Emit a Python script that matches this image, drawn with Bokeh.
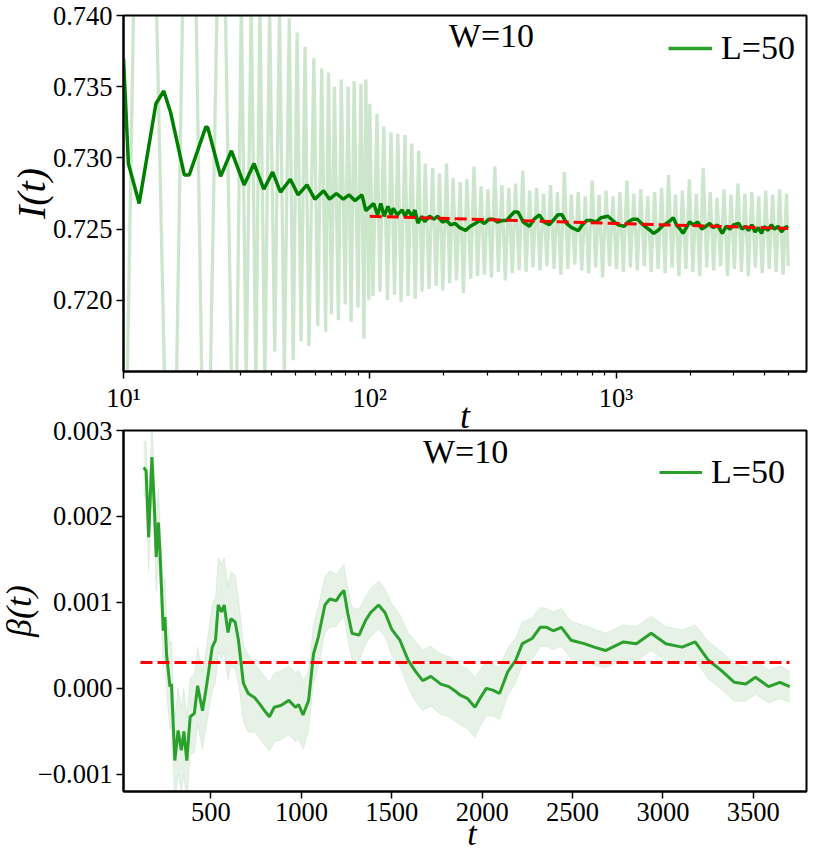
import numpy as np
from bokeh.plotting import figure
from bokeh.layouts import column
from bokeh.models import (Range1d, FixedTicker, CustomJSTickFormatter, Label,
                          Legend, LegendItem, Div)
from bokeh.embed import file_html
from bokeh.resources import INLINE

FONT = "Liberation Serif"

# ---------------- top panel data: I(t) ----------------
# raw (unsmoothed) signal, light line
raw_t = [10.35, 11.0, 13.6, 14.7, 16.4, 17.4, 19.7, 20.8, 22.5, 24.0, 25.9, 27.5, 28.8,
         30.1, 31.5, 33.0, 34.5, 35.8, 37.5, 39.2, 41.1, 43.0, 45.0, 47.1, 48.9, 50.7,
         52.6, 54.6, 56.6, 59.3, 61.5, 63.8, 66.2, 68.0, 69.9, 71.9, 74.6, 76.6, 79.5,
         81.7, 84.0, 86.4, 89.6, 92.1, 94.7, 96.4, 99.1,
         100, 103, 107, 110, 114, 118, 122, 126, 130, 134, 139, 143, 148, 153, 158, 163,
         168, 174, 180, 186, 192, 198, 205, 211, 218, 225, 233, 240, 248, 257, 265, 274,
         283, 292, 302, 312, 322, 333, 344, 355, 367, 379, 391, 404, 418, 431, 446, 460,
         476, 491, 508, 524, 542, 560, 578, 597, 617, 637, 658, 680, 702, 726, 750, 774,
         800, 826, 854, 882, 911, 941, 972, 1004, 1037, 1071, 1107, 1143, 1181, 1220,
         1260, 1302, 1345, 1389, 1435, 1482, 1531, 1582, 1634, 1688, 1743, 1801, 1860,
         1921, 1985, 2050, 2118, 2188, 2260, 2334, 2411, 2491, 2573, 2658, 2745, 2836,
         2930, 3026, 3126, 3229, 3336, 3446, 3560, 3677, 3798, 3924, 4053, 4187, 4325,
         4468, 4615, 4768, 4925, 5000]
raw_I = [0.7140, 0.7410, 0.7410, 0.7140, 0.7140, 0.7410, 0.7410, 0.7140, 0.7140, 0.7410,
         0.7410, 0.7140, 0.7140,
         0.7410, 0.7140, 0.7410, 0.7140, 0.7408, 0.7143, 0.7405, 0.7164, 0.7402, 0.7150,
         0.7398, 0.7158, 0.7388, 0.7171, 0.7378, 0.7168, 0.7370, 0.7182, 0.7363, 0.7178,
         0.7360, 0.7190, 0.7350, 0.7186, 0.7355, 0.7197, 0.7350, 0.7185, 0.7354, 0.7195,
         0.7352, 0.7173, 0.7355, 0.7200,
         0.7338, 0.7203, 0.7331, 0.7206, 0.7322, 0.7200, 0.7318, 0.7204, 0.7317, 0.7199,
         0.7316, 0.7203, 0.7310, 0.7201, 0.7305, 0.7206, 0.7296, 0.7208, 0.7293, 0.7210,
         0.7289, 0.7207, 0.7296, 0.7212, 0.7286, 0.7214, 0.7283, 0.7205, 0.7285, 0.7215,
         0.7294, 0.7217, 0.7280, 0.7218, 0.7278, 0.7216, 0.7294, 0.7220, 0.7281, 0.7214,
         0.7279, 0.7219, 0.7282, 0.7221, 0.7291, 0.7220, 0.7277, 0.7223, 0.7279, 0.7221,
         0.7275, 0.7224, 0.7281, 0.7222, 0.7276, 0.7218, 0.7290, 0.7222, 0.7274, 0.7225,
         0.7276, 0.7221, 0.7273, 0.7219, 0.7284, 0.7223, 0.7274, 0.7216, 0.7277, 0.7224,
         0.7273, 0.7222, 0.7276, 0.7220, 0.7284, 0.7223, 0.7275, 0.7221, 0.7278, 0.7224,
         0.7273, 0.7220, 0.7276, 0.7222, 0.7279, 0.7219, 0.7288, 0.7223, 0.7274, 0.7217,
         0.7277, 0.7222, 0.7285, 0.7220, 0.7275, 0.7217, 0.7293, 0.7223, 0.7276, 0.7221,
         0.7272, 0.7224, 0.7278, 0.7217, 0.7274, 0.7222, 0.7282, 0.7220, 0.7275, 0.7217,
         0.7276, 0.7223, 0.7273, 0.7219, 0.7277, 0.7222, 0.7274, 0.7220, 0.7278, 0.7218,
         0.7275, 0.7224]

# smoothed signal, dark line
smooth_t = [10.0, 10.47, 11.58, 13.54, 14.57, 15.53, 17.66, 18.49, 21.61, 22.01, 24.80,
            27.43, 30.90, 33.88, 37.13, 40.32, 43.40, 47.57, 51.19, 55.59, 59.84, 64.95,
            68.65, 73.18, 78.06, 82.47, 87.13, 92.92, 96.40,
            103.7, 107.6, 110.9, 114.3, 118.5, 122.1, 124.6, 129.3, 135.4, 139.1, 143.0,
            148.4, 152.5, 156.8, 162.6, 167.1, 175, 182, 189, 197, 205, 213, 222, 232,
            245, 256, 268, 280, 292, 305, 318, 330, 345, 359, 372, 386, 400, 420, 445,
            465, 488, 510, 535, 555, 580, 604, 630, 660, 704, 730, 760, 795, 830, 870,
            927, 970, 1020, 1079, 1120, 1170, 1220, 1270, 1330, 1380, 1421, 1480, 1540,
            1600, 1660, 1708, 1760, 1820, 1871, 1930, 1990, 2060, 2150, 2230, 2319, 2400,
            2480, 2580, 2701, 2800, 2900, 3000, 3148, 3250, 3350, 3450, 3560, 3668, 3780,
            3900, 4000, 4130, 4272, 4400, 4550, 4700, 4850, 5000]
smooth_I = [0.7370, 0.7296, 0.7268, 0.7338, 0.7347, 0.7332, 0.7288, 0.7288, 0.7322,
            0.7321, 0.7287, 0.7305, 0.7281, 0.7296, 0.7278, 0.7290, 0.7276, 0.7285,
            0.7274, 0.7281, 0.7271, 0.7277, 0.7271, 0.7275, 0.7271, 0.7274, 0.7270,
            0.7274, 0.7263,
            0.7268, 0.7260, 0.7268, 0.7259, 0.7266, 0.7260, 0.72646, 0.7260, 0.72634,
            0.7259, 0.72634, 0.7259, 0.72634, 0.72542, 0.7259, 0.72553, 0.7259, 0.7257,
            0.7259, 0.7255, 0.7256, 0.7253, 0.7254, 0.7251, 0.7249, 0.7252, 0.7254,
            0.7256, 0.7254, 0.7257, 0.7257, 0.7255, 0.7256, 0.7256, 0.7259, 0.7262,
            0.7262, 0.7255, 0.7252, 0.7257, 0.7260, 0.7255, 0.7253, 0.7256, 0.7260,
            0.7260, 0.7254, 0.7251, 0.7249, 0.7253, 0.7256, 0.7256, 0.7255, 0.7258,
            0.7259, 0.7256, 0.7253, 0.7252, 0.7255, 0.7257, 0.7257, 0.7254, 0.7251,
            0.7249, 0.7247, 0.7249, 0.7252, 0.7254, 0.7256, 0.7258, 0.7253, 0.7250,
            0.7247, 0.7251, 0.7255, 0.7253, 0.7255, 0.7250, 0.7252, 0.7254, 0.7251,
            0.7253, 0.7247, 0.7252, 0.7250, 0.7253, 0.7254, 0.7250, 0.7252, 0.7249,
            0.7253, 0.7248, 0.7251, 0.7247, 0.7252, 0.7249, 0.7253, 0.7250, 0.7252,
            0.7248, 0.7251, 0.7252]

# power-law fit (red dashed)
fit_t = [100, 1000, 5000]
fit_I = [0.72590, 0.72540, 0.72505]

# ---------------- bottom panel data: beta(t) ----------------
beta_t = [128, 141, 155, 173, 186, 197, 209, 218, 236, 245, 254, 273, 281, 300, 318, 336,
          350, 366, 385, 408, 426, 453, 471, 507, 525, 540, 558, 573, 594, 610, 634, 652,
          679, 706, 742, 769, 796, 823, 850, 886, 931, 967, 985, 1009, 1040, 1067, 1094,
          1130, 1157, 1193, 1211, 1235, 1256, 1280, 1319, 1355, 1382, 1427, 1463, 1499,
          1545, 1590, 1630, 1671, 1716, 1771, 1816, 1850, 1879, 1920, 1960, 1987, 2023,
          2059, 2096, 2141, 2186, 2222, 2276, 2321, 2357, 2393, 2438, 2492, 2564, 2620,
          2682, 2781, 2853, 2935, 3016, 3106, 3178, 3250, 3322, 3395, 3458, 3512, 3584,
          3647, 3701]
beta_e3 = [2.57, 2.53, 1.76, 2.69, 2.15, 1.53, 1.93, 1.57, 0.67, 0.83, 0.40, 0.02, 0.05,
           -0.84, -0.49, -0.72, -0.50, -0.84, -0.33, -0.29, 0.03, -0.26, -0.03, 0.48, 0.56,
           0.97, 0.89, 0.97, 0.65, 0.81, 0.77, 0.56, 0.06, -0.06, -0.11, -0.18, -0.26,
           -0.33, -0.22, -0.20, -0.14, -0.22, -0.19, -0.31, -0.14, 0.40, 0.60, 0.97, 1.04,
           1.02, 1.08, 1.14, 0.88, 0.64, 0.62, 0.79, 0.88, 0.97, 0.88, 0.69, 0.56, 0.33,
           0.20, 0.09, 0.14, 0.05, 0.02, -0.03, -0.08, -0.12, -0.22, -0.12, 0.00, -0.02,
           -0.06, 0.19, 0.33, 0.52, 0.58, 0.71, 0.71, 0.67, 0.71, 0.56, 0.52, 0.48, 0.44,
           0.54, 0.52, 0.64, 0.52, 0.48, 0.54, 0.33, 0.21, 0.07, 0.05, 0.13, 0.02, 0.07,
           0.02]
beta_err_e3 = [0.30, 0.35, 0.40, 0.45, 0.40, 0.40, 0.40, 0.40, 0.45, 0.45, 0.45, 0.50, 0.50,
               0.50, 0.50, 0.50, 0.50, 0.50, 0.45, 0.45, 0.45, 0.45, 0.45, 0.50, 0.50, 0.55,
               0.55, 0.55, 0.55, 0.55, 0.55, 0.50, 0.45, 0.45, 0.40, 0.40, 0.40, 0.40, 0.40,
               0.40, 0.40, 0.40, 0.40, 0.40, 0.35, 0.35, 0.35, 0.33, 0.33, 0.30, 0.30, 0.30,
               0.30, 0.30, 0.30, 0.28, 0.28, 0.28, 0.28, 0.30, 0.30, 0.32, 0.35, 0.35, 0.35,
               0.35, 0.35, 0.35, 0.35, 0.35, 0.35, 0.33, 0.32, 0.30, 0.30, 0.28, 0.26, 0.25,
               0.24, 0.23, 0.22, 0.22, 0.22, 0.22, 0.21, 0.21, 0.20, 0.20, 0.20, 0.20, 0.20,
               0.20, 0.20, 0.22, 0.22, 0.22, 0.20, 0.20, 0.19, 0.19, 0.18]
beta_fit_t = [110, 3700]
beta_fit_e3 = [0.30, 0.30]

beta = [v * 1e-3 for v in beta_e3]
beta_lo = [(v - e) * 1e-3 for v, e in zip(beta_e3, beta_err_e3)]
beta_hi = [(v + e) * 1e-3 for v, e in zip(beta_e3, beta_err_e3)]
beta_fit = [v * 1e-3 for v in beta_fit_e3]

W_LABEL = "W=10"
L_LABEL = "L=50"
X_LABEL = "t"
Y1_LABEL = "I(t)"
Y2_LABEL = "\u03b2(t)"

W = 822
RIGHT = 2
FRAME_LEFT = 123
LEFT = 137                       # left border; canvas starts left of the window
SHIFT = FRAME_LEFT - LEFT


def style(p):
    p.outline_line_color = "black"
    p.outline_line_width = 2
    p.outline_line_alpha = 1.0
    p.xgrid.visible = False
    p.ygrid.visible = False
    p.background_fill_color = "white"
    p.border_fill_color = None
    for ax in (p.xaxis[0], p.yaxis[0]):
        ax.axis_line_width = 2
        ax.major_tick_line_width = 1.5
        ax.minor_tick_line_width = 1.2
        ax.major_tick_out = 7
        ax.major_tick_in = 0
        ax.minor_tick_out = 4
        ax.minor_tick_in = 0
        ax.major_label_text_font = FONT
        ax.major_label_text_font_size = "26.5px"
        ax.major_label_text_color = "black"
        ax.major_label_standoff = 4
        ax.axis_label_text_font = FONT
        ax.axis_label_text_font_style = "italic"
        ax.axis_label_text_font_size = "36px"
        ax.axis_label_text_color = "black"
    p.yaxis[0].minor_tick_line_color = None


# ---------------- top figure ----------------
H1, TOP1, BOT1 = 441, 15, 70
p1 = figure(width=W - SHIFT, height=H1, x_axis_type="log",
            x_range=Range1d(10, 5935), y_range=Range1d(0.715, 0.740),
            output_backend="svg", toolbar_location=None,
            min_border_left=LEFT, min_border_right=RIGHT, min_border_top=TOP1,
            min_border_bottom=BOT1, margin=(0, 0, 0, SHIFT))
style(p1)
p1.line(raw_t, raw_I, line_color="green", line_alpha=0.2, line_width=3.3)
p1.line(smooth_t, smooth_I, line_color="green", line_width=3.5)
p1.line(fit_t, fit_I, line_color="red", line_width=3, line_dash="12 5")
leg1_r = p1.line(x=np.array([np.nan]), y=np.array([np.nan]),
                 line_color="#2ca02c", line_width=3.5)

p1.xaxis[0].ticker = FixedTicker(
    ticks=[10, 100, 1000],
    minor_ticks=[20, 30, 40, 50, 60, 70, 80, 90, 200, 300, 400, 500, 600, 700, 800,
                 900, 2000, 3000, 4000, 5000])
p1.xaxis[0].formatter = CustomJSTickFormatter(code="""
    const e = Math.round(Math.log10(tick));
    const sup = {1: '\u00b9', 2: '\u00b2', 3: '\u00b3', 4: '\u2074'};
    return '10' + sup[e];
""")
p1.yaxis[0].ticker = FixedTicker(ticks=[0.720, 0.725, 0.730, 0.735, 0.740])
p1.yaxis[0].formatter = CustomJSTickFormatter(code="return tick.toFixed(3);")
p1.xaxis[0].axis_label = X_LABEL
p1.xaxis[0].axis_label_standoff = -20
p1.yaxis[0].axis_label = Y1_LABEL
p1.yaxis[0].axis_label_text_font_size = "40px"
p1.yaxis[0].axis_label_standoff = -4
fh1 = H1 - TOP1 - BOT1

p1.add_layout(Label(x=312, y=0.73860, text=W_LABEL, text_font=FONT,
                    text_font_size="34px", text_align="center",
                    text_baseline="middle", text_color="black"))
leg1 = Legend(items=[LegendItem(label=L_LABEL, renderers=[leg1_r])],
              location=(545, fh1 - (47 - TOP1) - 20), border_line_alpha=0,
              background_fill_alpha=0, glyph_width=44, glyph_height=20,
              label_standoff=9, padding=0, margin=0,
              label_text_font=FONT, label_text_font_size="34px",
              label_text_color="black")
p1.add_layout(leg1)

# ---------------- bottom figure ----------------
START2 = 412
H2, TOP2, BOT2 = 853 - START2, 430 - START2, 62
p2 = figure(width=W - SHIFT, height=H2,
            x_range=Range1d(16, 3794), y_range=Range1d(-0.0012, 0.003),
            output_backend="svg", toolbar_location=None,
            min_border_left=LEFT, min_border_right=RIGHT, min_border_top=TOP2,
            min_border_bottom=BOT2, margin=(START2 - H1, 0, 0, SHIFT))
style(p2)
p2.xaxis[0].minor_tick_line_color = None
p2.varea(x=beta_t, y1=beta_lo, y2=beta_hi, fill_color="green", fill_alpha=0.1)
p2.line(beta_t, beta_lo, line_color="green", line_alpha=0.08, line_width=1)
p2.line(beta_t, beta_hi, line_color="green", line_alpha=0.08, line_width=1)
leg2_r = p2.line(beta_t, beta, line_color="#2ca02c", line_width=3)
p2.line(beta_fit_t, beta_fit, line_color="red", line_width=3, line_dash="12 5")

p2.xaxis[0].ticker = FixedTicker(ticks=[500, 1000, 1500, 2000, 2500, 3000, 3500])
p2.yaxis[0].ticker = FixedTicker(ticks=[-0.001, 0.0, 0.001, 0.002, 0.003])
p2.yaxis[0].formatter = CustomJSTickFormatter(
    code="return tick.toFixed(3).replace('-', '\u2212');")
p2.yaxis[0].axis_label = Y2_LABEL
p2.yaxis[0].axis_label_standoff = -4
fh2 = H2 - TOP2 - BOT2

p2.add_layout(Label(x=1908, y=0.00275, text=W_LABEL, text_font=FONT,
                    text_font_size="34px", text_align="center",
                    text_baseline="middle", text_color="black"))
leg2 = Legend(items=[LegendItem(label=L_LABEL, renderers=[leg2_r])],
              location=(536, fh2 - 41 - 20), border_line_alpha=0,
              background_fill_alpha=0, glyph_width=43, glyph_height=20,
              label_standoff=9, padding=0, margin=0,
              label_text_font=FONT, label_text_font_size="34px",
              label_text_color="black")
p2.add_layout(leg2)

# x-axis title of the lower panel, overlaid just under its tick labels
XLAB_H = 38
xlab2 = Div(text=X_LABEL, width=100, height=XLAB_H,
            margin=(-XLAB_H, 0, 0, 422),
            styles={"font-family": FONT, "font-size": "34px", "font-style": "italic",
                    "line-height": "%dpx" % XLAB_H, "text-align": "center",
                    "color": "black"})

layout = column(p1, p2, xlab2, spacing=0)
open("out.html", "w").write(file_html(layout, INLINE))
